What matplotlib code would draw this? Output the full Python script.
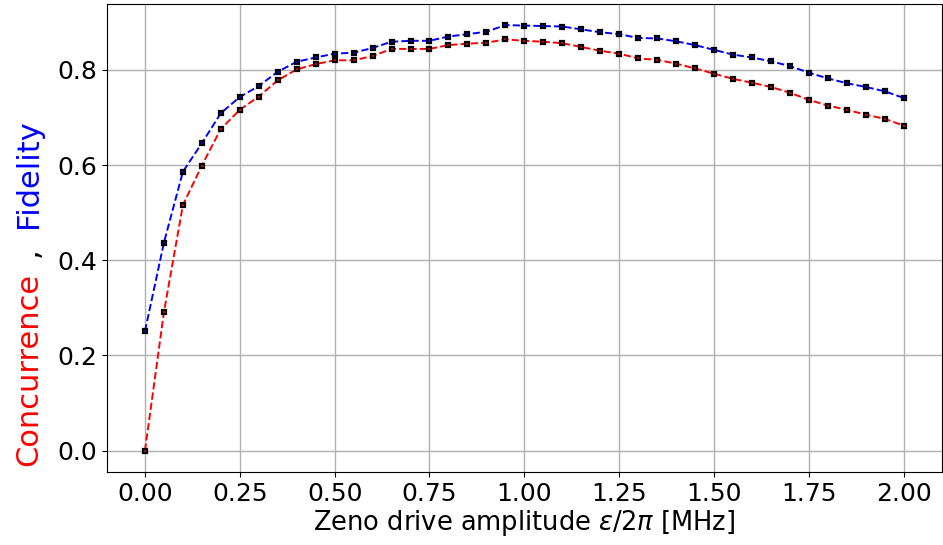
import numpy as np
import matplotlib.pyplot as plt

# amplituda napędu Zeno [MHz]
amplituda = np.round(np.arange(0, 2.001, 0.05), 2)

concurrence = [0.000, 0.291, 0.516, 0.599, 0.676, 0.716, 0.744, 0.778, 0.801, 0.812,
               0.820, 0.820, 0.829, 0.844, 0.844, 0.844, 0.852, 0.855, 0.857, 0.864,
               0.861, 0.859, 0.856, 0.848, 0.840, 0.834, 0.824, 0.821, 0.813, 0.803,
               0.792, 0.781, 0.773, 0.764, 0.752, 0.737, 0.725, 0.716, 0.706, 0.697,
               0.683]
fidelity = [0.251, 0.437, 0.586, 0.646, 0.709, 0.743, 0.766, 0.796, 0.817, 0.826,
            0.834, 0.836, 0.846, 0.859, 0.861, 0.861, 0.870, 0.875, 0.880, 0.894,
            0.893, 0.892, 0.891, 0.885, 0.879, 0.875, 0.867, 0.866, 0.860, 0.852,
            0.842, 0.832, 0.826, 0.818, 0.808, 0.794, 0.782, 0.772, 0.764, 0.755,
            0.741]

fig = plt.figure(figsize=(9.43, 5.45), dpi=100)
ax = fig.add_axes([0.1135, 0.134, 0.885, 0.859])

styl = dict(ls="--", lw=1.4, marker="s", ms=3.5, mec="black", mew=1.6)
ax.plot(amplituda, concurrence, color="red", mfc="red", **styl)
ax.plot(amplituda, fidelity, color="blue", mfc="blue", **styl)

ax.grid(True, color="#b0b0b0", lw=1.0)
ax.set_axisbelow(True)
ax.tick_params(labelsize=18)
ax.set_xticks(np.arange(0, 2.01, 0.25))
ax.set_xlabel(r"Zeno drive amplitude $\varepsilon/2\pi$ [MHz]", fontsize=18.5, labelpad=2)

# kolorowy opis osi y, składany z trzech kawałków
opis = dict(fontsize=22, rotation=90, rotation_mode="anchor", ha="left", va="baseline")
fig.text(0.0392, 0.145, "Concurrence", color="red", **opis)
fig.text(0.0392, 0.528, ",", color="black", **opis)
fig.text(0.0392, 0.5817, "Fidelity", color="blue", **opis)

fig.savefig("out.png", dpi=100)
